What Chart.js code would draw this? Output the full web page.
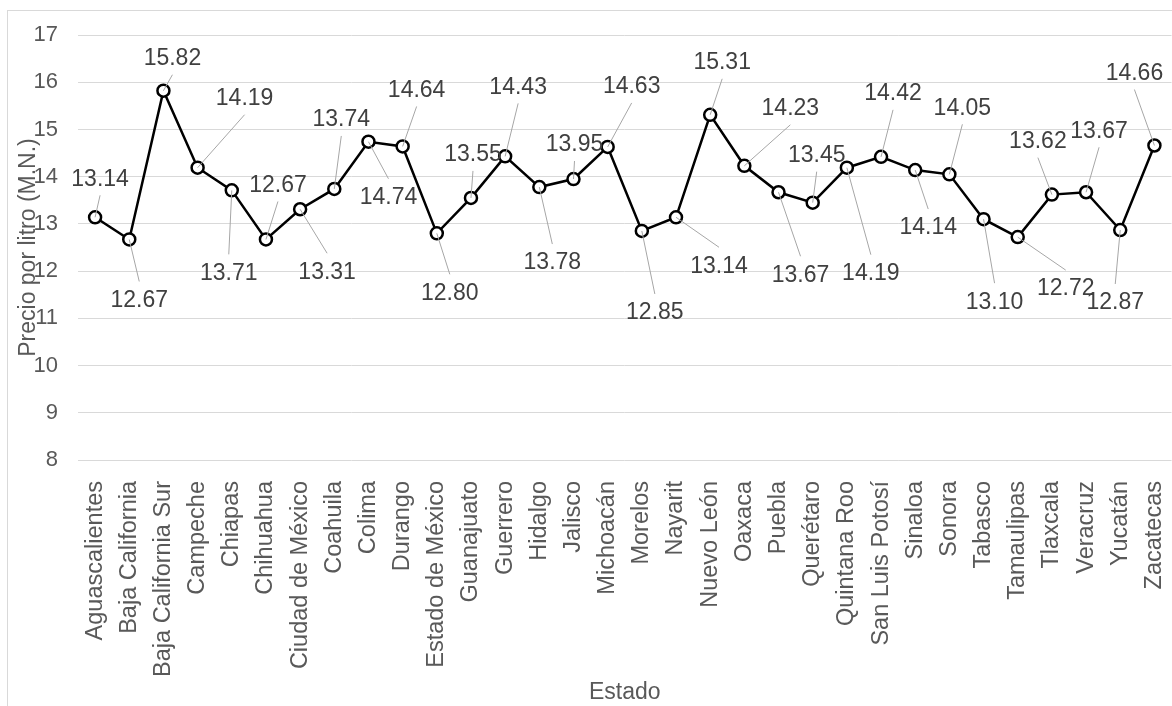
<!DOCTYPE html>
<html>
<head>
<meta charset="utf-8">
<script src="https://cdn.jsdelivr.net/npm/chart.js@4/dist/chart.umd.min.js"></script>
<style>
  html, body { margin: 0; padding: 0; background: #ffffff; overflow: hidden; }
  #wrap { position: absolute; left: 0; top: 0; width: 1180px; height: 706px; }
</style>
</head>
<body>
<div id="wrap"><canvas id="c"></canvas></div>
<script>
const estados = ["Aguascalientes","Baja California","Baja California Sur","Campeche","Chiapas","Chihuahua","Ciudad de México","Coahuila","Colima","Durango","Estado de México","Guanajuato","Guerrero","Hidalgo","Jalisco","Michoacán","Morelos","Nayarit","Nuevo León","Oaxaca","Puebla","Querétaro","Quintana Roo","San Luis Potosí","Sinaloa","Sonora","Tabasco","Tamaulipas","Tlaxcala","Veracruz","Yucatán","Zacatecas"];
const precios = [13.14,12.67,15.82,14.19,13.71,12.67,13.31,13.74,14.74,14.64,12.80,13.55,14.43,13.78,13.95,14.63,12.85,13.14,15.31,14.23,13.67,13.45,14.19,14.42,14.14,14.05,13.10,12.72,13.62,13.67,12.87,14.66];
const yTicks = [8,9,10,11,12,13,14,15,16,17];
const yTitle = "Precio por litro (M.N.)";
const xTitle = "Estado";
// label placement relative to each point (layout only)
const labelOffsets = [[5,-39],[10,60],[9,-33],[47,-70],[-3,82],[12,-55],[27,62],[7,-70],[20,55],[14,-57],[13,59],[2,-44],[13,-70],[13,75],[1,-35],[24,-61],[13,81],[43,48],[12,-53],[46,-58],[22,82],[4,-48],[24,105],[12,-64],[13,57],[13,-67],[11,82],[48,51],[-14,-54],[13,-62],[-5,72],[-20,-73]];

const FONT = "'Liberation Sans', Arial, sans-serif";

const frame = {
  id: 'frame',
  beforeDraw(chart) {
    const ctx = chart.ctx;
    ctx.save();
    ctx.strokeStyle = '#d9d9d9';
    ctx.lineWidth = 1;
    ctx.strokeRect(7.5, 10.5, 2000, 2000);
    ctx.restore();
  }
};

const dataLabels = {
  id: 'dataLabels',
  afterDatasetsDraw(chart) {
    const ctx = chart.ctx;
    const meta = chart.getDatasetMeta(0);
    ctx.save();
    meta.data.forEach((pt, i) => {
      const [dx, dy] = labelOffsets[i];
      const lx = pt.x + dx, ly = pt.y + dy;
      const ey = dy < 0 ? ly + 17 : ly - 18;
      ctx.strokeStyle = '#a6a6a6';
      ctx.lineWidth = 1;
      ctx.beginPath();
      ctx.moveTo(pt.x, pt.y);
      ctx.lineTo(lx, ey);
      ctx.stroke();
    });
    ctx.fillStyle = '#404040';
    ctx.font = '23px ' + FONT;
    ctx.textAlign = 'center';
    ctx.textBaseline = 'middle';
    meta.data.forEach((pt, i) => {
      const [dx, dy] = labelOffsets[i];
      ctx.fillText(precios[i].toFixed(2), pt.x + dx, pt.y + dy + 1);
    });
    ctx.restore();
  }
};

new Chart(document.getElementById('c'), {
  type: 'line',
  data: {
    labels: estados,
    datasets: [{
      data: precios,
      borderColor: '#000000',
      borderWidth: 2.5,
      tension: 0,
      pointRadius: 6,
      pointBorderWidth: 2.5,
      pointBackgroundColor: '#ffffff',
      pointBorderColor: '#000000'
    }]
  },
  options: {
    responsive: true,
    maintainAspectRatio: false,
    animation: false,
    layout: { padding: { top: 35, right: 7, left: 0, bottom: 0 } },
    plugins: { legend: { display: false }, tooltip: { enabled: false } },
    scales: {
      x: {
        offset: true,
        grid: { display: false, drawTicks: false },
        border: { display: false },
        ticks: {
          autoSkip: false, maxRotation: 90, minRotation: 90, padding: 21,
          color: '#595959', font: { family: FONT, size: 23.5 }
        },
        title: { display: true, text: xTitle, color: '#595959', font: { family: FONT, size: 23 }, padding: { top: 0, bottom: 0 } },
        afterFit(s) { s.height = 246; s.paddingLeft = 0; s.paddingRight = 0; }
      },
      y: {
        min: 8, max: 17,
        afterBuildTicks(s) { s.ticks = yTicks.map(v => ({ value: v })); },
        grid: { color: '#d9d9d9', lineWidth: 1, drawTicks: false },
        border: { display: false },
        ticks: { padding: 20, color: '#595959', font: { family: FONT, size: 22 } },
        title: { display: true, text: yTitle, color: '#595959', font: { family: FONT, size: 23 }, padding: { top: 15, bottom: 0 } },
        afterFit(s) { s.width = 78; s.paddingTop = 0; s.paddingBottom = 0; }
      }
    }
  },
  plugins: [frame, dataLabels]
});
</script>
</body>
</html>
